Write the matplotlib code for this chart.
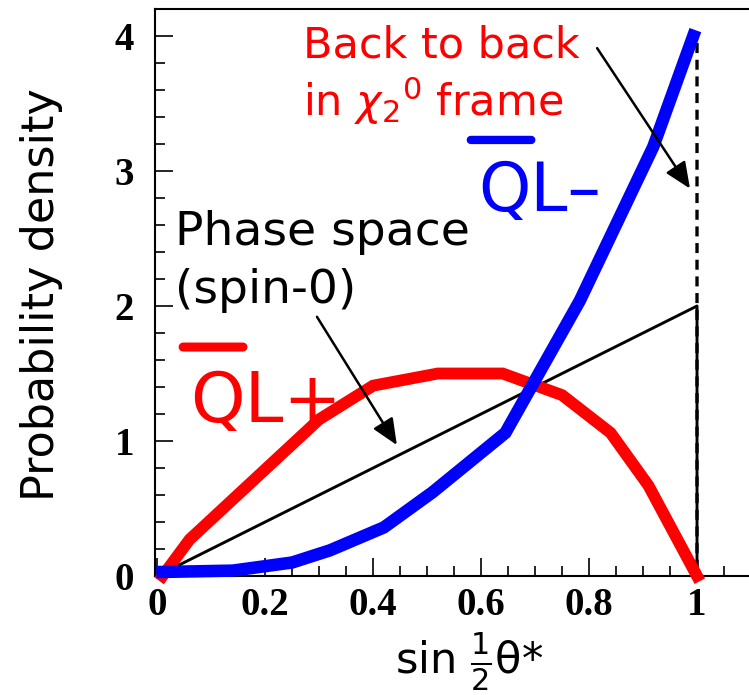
import numpy as np
import matplotlib
matplotlib.use("Agg")
import matplotlib.pyplot as plt
from matplotlib.ticker import MultipleLocator

# Data
x_qlminus = [0.01, 0.14, 0.25, 0.32, 0.42, 0.51, 0.645, 0.783, 0.919, 0.993]
y_qlminus = [0.03, 0.04, 0.10, 0.19, 0.36, 0.62, 1.06, 2.04, 3.18, 4.00]

x_qlplus = [0.01, 0.06, 0.30, 0.40, 0.52, 0.64, 0.75, 0.84, 0.91, 1.00]
y_qlplus = [0.00, 0.27, 1.16, 1.41, 1.50, 1.50, 1.34, 1.06, 0.67, 0.00]

x_phase = [0.01, 1.00, 1.00]
y_phase = [0.02, 2.00, 0.00]

# back-to-back curve (dashed, mostly hidden under the coloured ones)
x_b2b = x_qlminus + [1.00, 1.00]
y_b2b = y_qlminus + [4.00, 0.00]
x_b2b_plus = x_qlplus

xticks = [0, 0.2, 0.4, 0.6, 0.8, 1]
xticklabels = ["0", "0.2", "0.4", "0.6", "0.8", "1"]
yticks = [0, 1, 2, 3, 4]

RED = "#ff0000"
BLUE = "#0000ff"
TXT = "DejaVu Sans"

W, H = 749, 695
fig = plt.figure(figsize=(W / 100, H / 100), dpi=100)
ax = fig.add_axes([155 / W, 1 - 576 / H, 596 / W, 567 / H])
ax.set_xlim(-0.004, 1.1)
ax.set_ylim(0, 4.2)

# hidden dashed curves
ax.plot(x_b2b, y_b2b, color="black", lw=2.4, dashes=(3, 2), zorder=2)
ax.plot(x_b2b_plus, y_qlplus, color="black", lw=2.4, dashes=(3, 2), zorder=2)
# phase space
ax.plot(x_phase, y_phase, color="black", lw=2.1, zorder=3)
# QL+ and QL-
ax.plot(x_qlplus, y_qlplus, color=RED, lw=8.5, solid_joinstyle="miter",
        clip_on=False, zorder=4)
ax.plot(x_qlminus, y_qlminus, color=BLUE, lw=9, solid_joinstyle="miter",
        clip_on=False, zorder=5)

# axes styling
for side in ["left", "bottom", "top", "right"]:
    ax.spines[side].set_linewidth(1.5)
ax.set_xticks(xticks)
ax.set_xticklabels(xticklabels)
ax.set_yticks(yticks)
ax.xaxis.set_minor_locator(MultipleLocator(0.05))
ax.yaxis.set_minor_locator(MultipleLocator(0.2))
ax.tick_params(which="both", direction="in", top=False, right=False, width=1.2)
ax.tick_params(which="major", length=13)
ax.tick_params(which="minor", length=7)
ax.tick_params(axis="x", which="major", pad=8)
ax.tick_params(axis="y", which="major", pad=15)
for lab in ax.get_xticklabels() + ax.get_yticklabels():
    lab.set_fontfamily("Liberation Serif")
    lab.set_fontweight("bold")
    lab.set_fontsize(28)

# labels
fig.text(42 / W, 1 - 295 / H, "Probability density", rotation=90,
         ha="center", va="center", fontsize=32, family=TXT)
fig.text(469 / W, 1 - 674 / H, r"sin $\frac{1}{2}$θ*", ha="center",
         va="baseline", fontsize=31, family=TXT)

# annotations
ax.text(0.27, 3.84, "Back to back", color=RED, fontsize=31, family=TXT,
        ha="left", va="baseline")
ax.text(0.27, 3.41, r"in $\chi_2{}^0$ frame", color=RED, fontsize=31,
        family=TXT, ha="left", va="baseline")
ax.text(0.033, 2.45, "Phase space", color="black", fontsize=34, family=TXT,
        ha="left", va="baseline")
ax.text(0.033, 2.02, "(spin-0)", color="black", fontsize=34, family=TXT,
        ha="left", va="baseline")
ax.text(0.061, 1.14, "QL+", color=RED, fontsize=50, family=TXT,
        ha="left", va="baseline")
ax.text(0.594, 2.70, "QL–", color=BLUE, fontsize=48, family=TXT,
        ha="left", va="baseline")

# overbars
ax.annotate("", xy=(0.159, 1.696), xytext=(0.048, 1.696),
            arrowprops=dict(arrowstyle="-", color=RED, lw=6.5,
                            shrinkA=0, shrinkB=0))
ax.annotate("", xy=(0.693, 3.23), xytext=(0.581, 3.23),
            arrowprops=dict(arrowstyle="-", color=BLUE, lw=6,
                            shrinkA=0, shrinkB=0))

# arrows
arrow = dict(arrowstyle="-|>,head_length=0.8,head_width=0.35", color="black",
             lw=1.8, mutation_scale=20, shrinkA=0, shrinkB=0)
ax.annotate("", xy=(0.987, 2.87), xytext=(0.815, 3.91), arrowprops=arrow,
            zorder=6)
ax.annotate("", xy=(0.444, 0.97), xytext=(0.296, 1.92), arrowprops=arrow,
            zorder=6)

fig.savefig("out.png", dpi=100)
